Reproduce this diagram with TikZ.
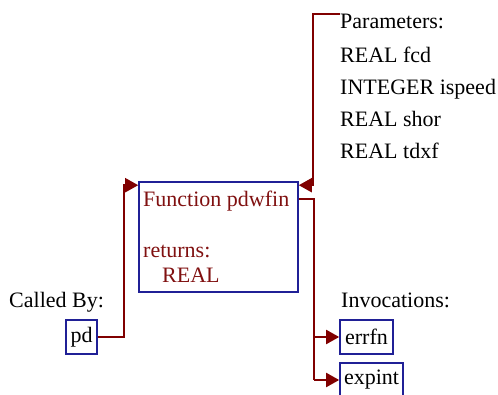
\documentclass[tikz,border=0pt]{standalone}
\usepackage{fontspec}
\setmainfont{Liberation Serif}
\usetikzlibrary{arrows.meta,calc}
\definecolor{boxblue}{RGB}{32,32,150}
\definecolor{linered}{RGB}{128,0,0}
\definecolor{functext}{RGB}{128,16,16}
\tikzset{
  every node/.style={font=\fontsize{22}{26}\selectfont},
  txt/.style={inner sep=0pt, anchor=base west},
  callbox/.style={draw=boxblue, line width=1.6pt, inner sep=0pt},
  conn/.style={draw=linered, line width=2pt},
  arr/.style={conn, -{Triangle[length=13pt,width=14pt]}}
}
\begin{document}
\begin{tikzpicture}[x=1pt,y=-1pt]
\useasboundingbox (0,0) rectangle (498,395);
\clip (0,0) rectangle (498,395);
% main function box
\node[callbox, minimum width=159pt, minimum height=110pt] (main) at (218.5,237) {};
\node[txt, text=functext] (fname) at (143,207) {Function pdwfin};
\node[txt, text=functext] (ret) at (143,258) {returns:};
\node[txt, text=functext] (rettype) at (162,283) {REAL};
% parameters
\node[txt] (params) at (340,29) {Parameters:};
\node[txt] (p1) at (340,63) {REAL fcd};
\node[txt] (p2) at (340,95) {INTEGER ispeed};
\node[txt] (p3) at (340,127) {REAL shor};
\node[txt] (p4) at (340,159) {REAL tdxf};
% called by
\node[txt] (calledby) at (9,308) {Called By:};
\node[callbox, minimum width=31pt, minimum height=34pt] (pd) at (81.5,337) {pd};
% invocations
\node[txt] (invoc) at (341,308) {Invocations:};
\node[callbox, minimum width=53pt, minimum height=34pt] (errfn) at (366.5,337) {errfn};
\node[callbox, minimum width=63pt, minimum height=34pt] (expint) at (371.5,380) {expint};
% connectors
\coordinate (pin) at ($(main.north east)+(0,4)$);
\coordinate (ptop) at (340,14);
\draw[arr] (ptop) -- ++(-27,0) |- (pin);
\coordinate (cin) at ($(main.north west)+(0,4)$);
\draw[arr] (pd.east) -| ($(cin)+(-14,0)$) -- (cin);
\coordinate (iout) at ($(main.north east)+(0,18)$);
\coordinate (bus) at ($(iout)+(15,0)$);
\draw[conn] (iout) -- (bus) -- (bus |- expint.west);
\draw[arr] (bus |- errfn.west) -- (errfn.west);
\draw[arr] (bus |- expint.west) -- (expint.west);
\end{tikzpicture}
\end{document}
